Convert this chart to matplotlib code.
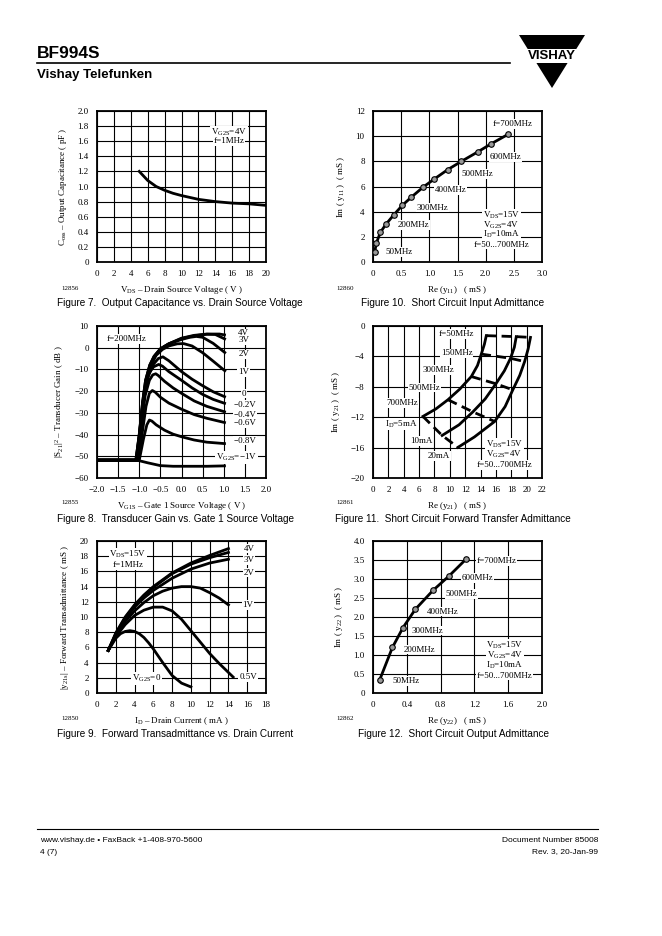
import matplotlib
matplotlib.use("Agg")
import matplotlib.pyplot as plt
from matplotlib.patches import Polygon, Rectangle
from matplotlib.lines import Line2D

plt.rcParams['font.family'] = ['Liberation Serif', 'DejaVu Serif']
plt.rcParams['mathtext.fontset'] = 'custom'
plt.rcParams['mathtext.rm'] = 'Liberation Serif'
plt.rcParams['mathtext.it'] = 'Liberation Serif:italic'
plt.rcParams['axes.unicode_minus'] = True

W, H = 662, 936
SANS = ['Liberation Sans', 'DejaVu Sans']

# ---- Figure 7: output capacitance
vds = [5, 5.5, 6, 7, 8, 9, 10, 12, 14, 16, 18, 20]
coss = [1.2, 1.14, 1.08, 1.0, 0.95, 0.91, 0.88, 0.83, 0.80, 0.78, 0.77, 0.75]

# ---- Figure 10: input admittance
re_y11 = [0.03, 0.06, 0.13, 0.23, 0.37, 0.52, 0.68, 0.89, 1.09, 1.33, 1.57, 1.86, 2.1, 2.4]
im_y11 = [0.8, 1.5, 2.35, 3.0, 3.75, 4.5, 5.15, 5.95, 6.6, 7.35, 8.0, 8.75, 9.4, 10.15]

# ---- Figure 8: transducer gain vs VG1S, one curve per VG2S
vg1_4v = [-2, -1.08, -1.0, -0.92, -0.85, -0.75, -0.65, -0.5, -0.3, 0, 0.3, 0.6, 0.9, 1.05]
gain_4v = [-51.8, -51.8, -40, -25, -15, -8, -4, -0.5, 1.8, 4.4, 5.7, 6.3, 6.3, 5.8]
vg1_3v = [-2, -1.08, -1.0, -0.92, -0.85, -0.75, -0.65, -0.5, -0.3, 0, 0.3, 0.6, 0.8, 1.05]
gain_3v = [-51.8, -51.8, -40, -25, -15, -8, -4, -0.5, 1.8, 4.2, 5.5, 6.2, 6.1, 3.8]
vg1_2v = [-2, -1.075, -0.995, -0.91, -0.84, -0.74, -0.62, -0.47, -0.3, 0, 0.2, 0.35, 0.5, 0.75, 1.05]
gain_2v = [-51.8, -51.8, -40, -25, -15, -8, -3.5, -0.3, 1.8, 3.8, 4.8, 5.2, 4.8, 2.0, -2.6]
vg1_1v = [-2, -1.07, -0.99, -0.9, -0.82, -0.72, -0.6, -0.45, -0.3, -0.1, 0.05, 0.25, 0.5, 0.75, 1.05]
gain_1v = [-51.8, -51.8, -40, -25, -15, -8, -3.5, -0.8, 0.8, 1.8, 1.9, 0.8, -2.3, -6.2, -11]
vg1_0v = [-2, -1.06, -0.98, -0.9, -0.8, -0.68, -0.55, -0.44, -0.3, 0, 0.25, 0.5, 0.75, 1.05]
gain_0v = [-51.8, -51.8, -40, -25, -14, -8, -5, -4.2, -6, -11, -14.5, -17.5, -20.3, -22.8]
vg1_m02 = [-2, -1.05, -0.97, -0.88, -0.78, -0.66, -0.54, -0.45, -0.3, 0, 0.25, 0.5, 0.75, 1.05]
gain_m02 = [-51.8, -51.8, -35, -20, -12, -8.8, -7.7, -8.5, -11, -15, -18.5, -21.5, -23.8, -25.8]
vg1_m04 = [-2, -1.04, -0.95, -0.86, -0.76, -0.68, -0.61, -0.55, -0.4, -0.2, 0, 0.3, 0.6, 1.05]
gain_m04 = [-51.8, -51.8, -36, -22, -15, -12.5, -12, -12.8, -15.5, -18.5, -21, -24.5, -27, -29.7]
vg1_m06 = [-2, -1.02, -0.92, -0.84, -0.76, -0.69, -0.62, -0.5, -0.3, 0, 0.3, 0.6, 1.05]
gain_m06 = [-51.8, -51.8, -38, -27, -21, -19.7, -20.5, -22.8, -25.5, -28.3, -30.8, -32.5, -34.6]
vg1_m08 = [-2, -1.0, -0.9, -0.82, -0.76, -0.7, -0.6, -0.4, -0.2, 0, 0.3, 0.6, 1.05]
gain_m08 = [-51.8, -51.8, -42, -35.5, -33.3, -33.8, -35.5, -38, -39.8, -41, -42.5, -43.5, -44.2]
vg1_m1 = [-2, -1.05, -0.8, -0.5, -0.2, 0.2, 0.6, 1.05]
gain_m1 = [-51.8, -51.8, -53, -54.3, -54.6, -54.6, -54.6, -54.4]

# ---- Figure 11: forward transfer admittance (points from 700MHz to 50MHz)
re_5ma = [6.5, 8.2, 9.76, 11.3, 12.8, 13.6, 14.1, 14.5, 14.75]
im_5ma = [-11.9, -10.9, -9.7, -8.3, -6.65, -5.2, -3.7, -2.4, -1.27]
re_10ma = [9.0, 11.2, 13.0, 14.6, 16.0, 17.1, 17.9, 18.4, 18.65]
im_10ma = [-14.4, -13.0, -11.3, -9.6, -7.6, -5.9, -4.25, -2.8, -1.4]
re_20ma = [11.06, 13.2, 15.84, 17.2, 18.2, 19.1, 19.74, 20.2, 20.5]
im_20ma = [-15.97, -14.6, -12.56, -10.6, -8.4, -6.5, -4.68, -3.0, -1.5]
freq_idx = [0, 2, 4, 6, 8]   # 700, 500, 300, 150, 50 MHz

# ---- Figure 9: forward transadmittance vs drain current
id_4v = [1.2, 2, 3, 4, 5, 6, 8, 10, 12, 14]
y21_4v = [5.6, 7.9, 10.0, 11.6, 12.9, 14.0, 15.8, 17.1, 18.1, 19.0]
id_3v = [1.2, 2, 3, 4, 5, 6, 8, 10, 12, 14]
y21_3v = [5.6, 7.8, 9.9, 11.5, 12.8, 13.9, 15.7, 16.95, 17.8, 18.5]
id_2v = [1.2, 2, 3, 4, 5, 6, 8, 10, 12, 14]
y21_2v = [5.6, 7.7, 9.7, 11.3, 12.5, 13.5, 15.1, 16.3, 17.1, 17.6]
id_1v = [1.2, 2, 3, 4, 5, 6, 7, 8, 9, 10, 11, 12, 13, 14]
y21_1v = [5.6, 7.6, 9.4, 10.8, 11.9, 12.8, 13.4, 13.8, 14.0, 14.0, 13.8, 13.2, 12.5, 11.6]
id_05v = [1.2, 2, 3, 4, 5, 6, 7, 8, 9, 10, 11, 12, 13, 14.5]
y21_05v = [5.6, 7.4, 9.0, 10.2, 10.9, 11.3, 11.3, 10.8, 9.7, 8.2, 6.7, 5.2, 3.9, 2.1]
id_0v = [1.2, 2, 2.5, 3, 3.5, 4, 4.5, 5, 5.5, 6, 7, 8, 9, 10]
y21_0v = [5.6, 7.2, 7.8, 8.1, 8.2, 8.1, 7.8, 7.3, 6.6, 5.8, 4.0, 2.3, 1.3, 0.8]

# ---- Figure 12: output admittance
re_y22 = [0.08, 0.23, 0.355, 0.5, 0.71, 0.9, 1.1]
im_y22 = [0.35, 1.2, 1.72, 2.2, 2.7, 3.08, 3.52]

fig = plt.figure(figsize=(W / 100, H / 100), dpi=100)

TS = 6.5
LW = 2.0


def pax(x0, y0, x1, y1):
    return fig.add_axes([x0 / W, 1 - y1 / H, (x1 - x0) / W, (y1 - y0) / H])


def style(ax, xlim, ylim, xt, xl, yt, yl, xlabel, ylabel):
    ax.set_xlim(*xlim)
    ax.set_ylim(*ylim)
    ax.set_xticks(xt, xl)
    ax.set_yticks(yt, yl)
    ax.grid(True, color='black', lw=0.8)
    ax.set_axisbelow(True)
    ax.tick_params(length=0, labelsize=TS, pad=6)
    for s in ax.spines.values():
        s.set_linewidth(1.3)
    ax.set_xlabel(xlabel, fontsize=TS, labelpad=4)
    ax.set_ylabel(ylabel, fontsize=TS, labelpad=6)


def lab(ax, x, y, s, ha='center'):
    ax.text(x, y, s, ha=ha, va='center', fontsize=TS, zorder=3,
            bbox=dict(fc='white', ec='none', pad=0.6))


def ftext(x, y, s, **kw):
    fig.text(x / W, 1 - y / H, s, **kw)


# header
ftext(37, 54, 'BF994S', fontsize=12.5, fontweight='bold', family=SANS, va='center')
ftext(37, 75, 'Vishay Telefunken', fontsize=9.5, fontweight='bold', family=SANS, va='center')
fig.add_artist(Line2D([37 / W, 510 / W], [1 - 63 / H, 1 - 63 / H], color='black', lw=1.2))
tri = Polygon([[519 / W, 1 - 35 / H], [585 / W, 1 - 35 / H], [552 / W, 1 - 88 / H]],
              closed=True, fc='black', ec='none', transform=fig.transFigure)
fig.add_artist(tri)
fig.add_artist(Rectangle((515 / W, 1 - 63 / H), 74 / W, 14 / H, fc='white', ec='none',
                         transform=fig.transFigure))
ftext(552, 56, 'VISHAY', fontsize=9.5, fontweight='bold', family=SANS, ha='center', va='center')

# footer
fig.add_artist(Line2D([37 / W, 598 / W], [1 - 829 / H, 1 - 829 / H], color='black', lw=0.8))
ftext(40, 840, 'www.vishay.de \u2022 FaxBack +1-408-970-5600', fontsize=6, family=SANS, va='center')
ftext(40, 852, '4 (7)', fontsize=6, family=SANS, va='center')
ftext(598, 840, 'Document Number 85008', fontsize=6, family=SANS, va='center', ha='right')
ftext(598, 852, 'Rev. 3, 20-Jan-99', fontsize=6, family=SANS, va='center', ha='right')

# ---------- Figure 7
ax = pax(97, 111, 266, 262)
style(ax, (0, 20), (0, 2.0), range(0, 21, 2), [str(v) for v in range(0, 21, 2)],
      [0, 0.2, 0.4, 0.6, 0.8, 1.0, 1.2, 1.4, 1.6, 1.8, 2.0],
      ['0', '0.2', '0.4', '0.6', '0.8', '1.0', '1.2', '1.4', '1.6', '1.8', '2.0'],
      r'V$_{\rm DS}$ – Drain Source Voltage ( V )', r'C$_{\rm oss}$ – Output Capacitance ( pF )')
ax.plot(vds, coss, color='black', lw=LW, zorder=4)
lab(ax, 15.6, 1.72, r'V$_{\rm G2S}$=4V')
lab(ax, 15.6, 1.6, 'f=1MHz')

# ---------- Figure 10
ax = pax(373, 111, 542, 262)
style(ax, (0, 3.0), (0, 12), [0, 0.5, 1.0, 1.5, 2.0, 2.5, 3.0],
      ['0', '0.5', '1.0', '1.5', '2.0', '2.5', '3.0'], range(0, 13, 2),
      [str(v) for v in range(0, 13, 2)],
      r'Re (y$_{11}$)   ( mS )', r'Im ( y$_{11}$ )  ( mS )')
ax.plot(re_y11, im_y11, color='black', lw=LW, marker='o', ms=4, mfc='0.6', mec='black',
        mew=0.8, zorder=4)
lab(ax, 2.48, 10.95, 'f=700MHz')
lab(ax, 2.35, 8.35, '600MHz')
lab(ax, 1.85, 7.0, '500MHz')
lab(ax, 1.38, 5.72, '400MHz')
lab(ax, 1.05, 4.33, '300MHz')
lab(ax, 0.72, 2.94, '200MHz')
lab(ax, 0.47, 0.8, '50MHz')
lab(ax, 2.28, 3.72, r'V$_{\rm DS}$=15V')
lab(ax, 2.28, 2.94, r'V$_{\rm G2S}$=4V')
lab(ax, 2.28, 2.16, r'I$_{\rm D}$=10mA')
lab(ax, 2.28, 1.38, 'f=50...700MHz')

# ---------- Figure 8
ax = pax(97, 326, 266, 478)
xt8 = [-2.0, -1.5, -1.0, -0.5, 0.0, 0.5, 1.0, 1.5, 2.0]
style(ax, (-2, 2), (-60, 10), xt8,
      ['\u22122.0', '\u22121.5', '\u22121.0', '\u22120.5', '0.0', '0.5', '1.0', '1.5', '2.0'],
      range(-60, 11, 10), ['\u221260', '\u221250', '\u221240', '\u221230', '\u221220', '\u221210', '0', '10'],
      r'V$_{\rm G1S}$ – Gate 1 Source Voltage ( V )',
      r'|S$_{\rm 21}$|$^{\rm 2}$ – Transducer Gain ( dB )')
for xs, ys in [(vg1_m1, gain_m1), (vg1_m08, gain_m08), (vg1_m06, gain_m06), (vg1_m04, gain_m04),
               (vg1_m02, gain_m02), (vg1_0v, gain_0v), (vg1_1v, gain_1v), (vg1_2v, gain_2v),
               (vg1_3v, gain_3v), (vg1_4v, gain_4v)]:
    ax.plot(xs, ys, color='black', lw=LW, zorder=4, solid_capstyle='butt')
lab(ax, -1.3, 4.0, 'f=200MHz')
lab(ax, 1.47, 6.6, '4V')
lab(ax, 1.47, 3.4, '3V')
lab(ax, 1.47, -3.1, '2V')
lab(ax, 1.47, -11.1, '1V')
lab(ax, 1.47, -21.1, '0')
lab(ax, 1.5, -26.5, '\u22120.2V')
lab(ax, 1.5, -30.8, '\u22120.4V')
lab(ax, 1.5, -34.8, '\u22120.6V')
lab(ax, 1.5, -42.8, '\u22120.8V')
lab(ax, 1.3, -50.5, r'V$_{\rm G2S}$=$-$1V')

# ---------- Figure 11
ax = pax(373, 326, 542, 478)
style(ax, (0, 22), (-20, 0), range(0, 23, 2), [str(v) for v in range(0, 23, 2)],
      range(-20, 1, 4), ['\u221220', '\u221216', '\u221212', '\u22128', '\u22124', '0'],
      r'Re (y$_{21}$)   ( mS )', r'Im ( y$_{21}$ )  ( mS )')
curves11 = [(re_5ma, im_5ma), (re_10ma, im_10ma), (re_20ma, im_20ma)]
for xs, ys in curves11:
    ax.plot(xs, ys, color='black', lw=LW, zorder=4)
for i in freq_idx:
    ax.plot([c[0][i] for c in curves11], [c[1][i] for c in curves11], color='black', lw=LW,
            ls=(0, (3.5, 2)), zorder=4)
lab(ax, 10.85, -1.05, 'f=50MHz')
lab(ax, 10.9, -3.6, '150MHz')
lab(ax, 8.55, -5.8, '300MHz')
lab(ax, 6.7, -8.1, '500MHz')
lab(ax, 3.8, -10.15, '700MHz')
lab(ax, 3.7, -12.9, r'I$_{\rm D}$=5mA')
lab(ax, 6.3, -15.1, '10mA')
lab(ax, 8.6, -17.1, '20mA')
lab(ax, 17.1, -15.6, r'V$_{\rm DS}$=15V')
lab(ax, 17.1, -16.95, r'V$_{\rm G2S}$=4V')
lab(ax, 17.1, -18.3, 'f=50...700MHz')

# ---------- Figure 9
ax = pax(97, 541, 266, 693)
style(ax, (0, 18), (0, 20), range(0, 19, 2), [str(v) for v in range(0, 19, 2)],
      range(0, 21, 2), [str(v) for v in range(0, 21, 2)],
      r'I$_{\rm D}$ – Drain Current ( mA )',
      r'|y$_{\rm 21s}$| – Forward Transadmittance ( mS )')
for xs, ys in [(id_4v, y21_4v), (id_3v, y21_3v), (id_2v, y21_2v), (id_1v, y21_1v),
               (id_05v, y21_05v), (id_0v, y21_0v)]:
    ax.plot(xs, ys, color='black', lw=LW, zorder=4)
lab(ax, 3.3, 18.2, r'V$_{\rm DS}$=15V')
lab(ax, 3.3, 16.85, 'f=1MHz')
lab(ax, 16.2, 19.0, '4V')
lab(ax, 16.2, 17.5, '3V')
lab(ax, 16.2, 15.85, '2V')
lab(ax, 16.1, 11.6, '1V')
lab(ax, 16.1, 2.1, '0.5V')
lab(ax, 5.25, 1.9, r'V$_{\rm G2S}$=0')

# ---------- Figure 12
ax = pax(373, 541, 542, 693)
style(ax, (0, 2.0), (0, 4.0), [0, 0.4, 0.8, 1.2, 1.6, 2.0],
      ['0', '0.4', '0.8', '1.2', '1.6', '2.0'],
      [0, 0.5, 1.0, 1.5, 2.0, 2.5, 3.0, 3.5, 4.0],
      ['0', '0.5', '1.0', '1.5', '2.0', '2.5', '3.0', '3.5', '4.0'],
      r'Re (y$_{22}$)   ( mS )', r'Im ( y$_{22}$ )  ( mS )')
ax.plot(re_y22, im_y22, color='black', lw=LW, marker='o', ms=4, mfc='0.6', mec='black',
        mew=0.8, zorder=4)
lab(ax, 1.46, 3.48, 'f=700MHz')
lab(ax, 1.24, 3.02, '600MHz')
lab(ax, 1.05, 2.61, '500MHz')
lab(ax, 0.83, 2.14, '400MHz')
lab(ax, 0.64, 1.64, '300MHz')
lab(ax, 0.55, 1.14, '200MHz')
lab(ax, 0.39, 0.32, '50MHz')
lab(ax, 1.56, 1.25, r'V$_{\rm DS}$=15V')
lab(ax, 1.56, 0.99, r'V$_{\rm G2S}$=4V')
lab(ax, 1.56, 0.73, r'I$_{\rm D}$=10mA')
lab(ax, 1.56, 0.46, 'f=50...700MHz')

# ids and captions
for x, y, s in [(61, 288, '12856'), (336, 288, '12860'), (61, 503, '12855'),
                (336, 503, '12861'), (61, 718, '12850'), (336, 718, '12862')]:
    ftext(x, y, s, fontsize=5, va='center')

CS = 7.2
ftext(57, 303, 'Figure 7.  Output Capacitance vs. Drain Source Voltage', fontsize=CS, family=SANS, va='center')
ftext(453, 303, 'Figure 10.  Short Circuit Input Admittance', fontsize=CS, family=SANS, va='center', ha='center')
ftext(57, 519, 'Figure 8.  Transducer Gain vs. Gate 1 Source Voltage', fontsize=CS, family=SANS, va='center')
ftext(453, 519, 'Figure 11.  Short Circuit Forward Transfer Admittance', fontsize=CS, family=SANS, va='center', ha='center')
ftext(57, 734, 'Figure 9.  Forward Transadmittance vs. Drain Current', fontsize=CS, family=SANS, va='center')
ftext(453, 734, 'Figure 12.  Short Circuit Output Admittance', fontsize=CS, family=SANS, va='center', ha='center')

fig.savefig('out.png', dpi=100)
